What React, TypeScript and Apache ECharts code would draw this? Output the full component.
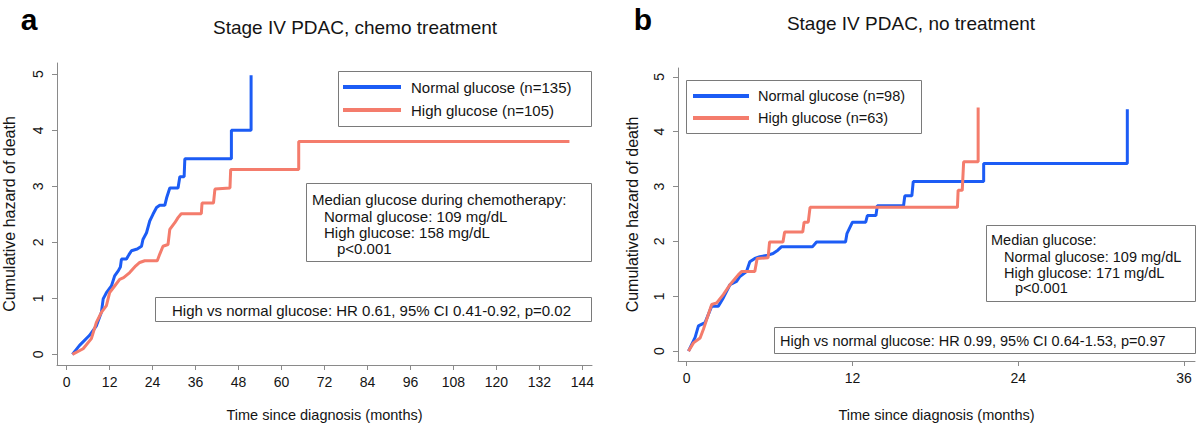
import React, { useEffect, useRef } from "react";
import * as echarts from "echarts";

// ---- Data (months, cumulative hazard) ----
const LEFT_NORMAL: [number, number][] = [
  [1.6, 0], [3.6, 0.16], [6.4, 0.34], [8.3, 0.51], [9.7, 0.75], [10.2, 0.99],
  [11.1, 1.1], [12.5, 1.22], [13.4, 1.4], [14.4, 1.49], [15.0, 1.56], [15.3, 1.7],
  [16.7, 1.7], [17.4, 1.78], [18.1, 1.85], [19.7, 1.88], [20.9, 1.93], [21.3, 2.05],
  [22.3, 2.17], [23.2, 2.38], [24.1, 2.5], [25.1, 2.62], [26, 2.66], [27.4, 2.66],
  [27.9, 2.79], [28.8, 2.97], [31.1, 2.97], [31.6, 3.17], [32.8, 3.17], [33, 3.49],
  [46, 3.49], [46, 4.0], [51.5, 4.0], [51.5, 4.98],
];
const LEFT_HIGH: [number, number][] = [
  [1.6, 0], [4.6, 0.1], [6.9, 0.28], [8.3, 0.57], [9.7, 0.75], [11.1, 0.87],
  [12, 1.1], [13.4, 1.22], [14.8, 1.34], [15.9, 1.37], [17.6, 1.46], [19.3, 1.58],
  [20.4, 1.64], [21.8, 1.67], [25.3, 1.67], [26, 1.79], [26.9, 1.93], [28.3, 1.96],
  [28.8, 2.23], [30.2, 2.35], [31.1, 2.44], [32, 2.51], [37.6, 2.51], [37.8, 2.7],
  [41, 2.7], [41.4, 2.95], [45.6, 2.97], [45.8, 3.3], [64.8, 3.3], [64.8, 3.8],
  [140.4, 3.8],
];
const RIGHT_NORMAL: [number, number][] = [
  [0.13, 0], [0.61, 0.25], [0.85, 0.46], [1.33, 0.52], [1.81, 0.82], [2.29, 0.82],
  [2.65, 0.97], [3.13, 1.21], [3.61, 1.27], [3.85, 1.36], [4.33, 1.45], [4.57, 1.63],
  [4.93, 1.69], [5.29, 1.72], [5.89, 1.75], [6.25, 1.78], [6.6, 1.84], [6.85, 1.9],
  [9.1, 1.9], [9.4, 1.99], [11.5, 1.99], [11.6, 2.14], [12, 2.35], [12.96, 2.35],
  [13.08, 2.47], [13.7, 2.47], [13.8, 2.65], [15.7, 2.65], [15.79, 2.83], [16.3, 2.83],
  [16.4, 3.09], [21.5, 3.09], [21.5, 3.42], [31.9, 3.42], [31.9, 4.41],
];
const RIGHT_HIGH: [number, number][] = [
  [0.13, 0], [0.49, 0.15], [0.97, 0.24], [1.21, 0.4], [1.45, 0.58], [1.81, 0.85],
  [2.17, 0.88], [2.65, 1.03], [3.13, 1.21], [3.73, 1.39], [3.97, 1.45], [4.93, 1.45],
  [5.1, 1.69], [5.89, 1.7], [6, 1.99], [6.97, 1.99], [7.09, 2.17], [8.4, 2.17],
  [8.5, 2.35], [8.8, 2.35], [8.93, 2.62], [19.6, 2.62], [19.65, 2.93], [19.95, 2.93],
  [20.05, 3.45], [21.1, 3.45], [21.1, 4.44],
];

const LEFT_X_TICKS = [0, 12, 24, 36, 48, 60, 72, 84, 96, 108, 120, 132, 144];
const RIGHT_X_TICKS = [0, 12, 24, 36];
const Y_TICKS = [0, 1, 2, 3, 4, 5];

const LEFT_NAMES = ["Normal glucose (n=135)", "High glucose (n=105)"];
const RIGHT_NAMES = ["Normal glucose (n=98)", "High glucose (n=63)"];

const TITLES = ["Stage IV PDAC, chemo treatment", "Stage IV PDAC, no treatment"];
const PANEL_LETTERS = ["a", "b"];
const X_NAME = "Time since diagnosis (months)";
const Y_NAME = "Cumulative hazard of death";

const LEFT_MEDIAN = [
  "Median glucose during chemotherapy:",
  "Normal glucose: 109 mg/dL",
  "High glucose: 158 mg/dL",
  "p<0.001",
];
const RIGHT_MEDIAN = [
  "Median glucose:",
  "Normal glucose: 109 mg/dL",
  "High glucose: 171 mg/dL",
  "p<0.001",
];
const LEFT_HR = "High vs normal glucose: HR 0.61, 95% CI 0.41-0.92, p=0.02";
const RIGHT_HR = "High vs normal glucose: HR 0.99, 95% CI 0.64-1.53, p=0.97";

const BLUE = "#1c5cf5";
const RED = "#f47c6c";
const AXIS = "#8a8a8a";
const BOX = "#7a7a7a";
const INK = "#141414";
const FONT = "'Liberation Sans', Arial, Helvetica, sans-serif";

function xAxisCfg(grid: number, min: number, max: number, ticks: number[], gap: number) {
  return {
    gridIndex: grid,
    type: "value",
    min,
    max,
    name: X_NAME,
    nameLocation: "middle",
    nameGap: gap,
    nameTextStyle: { fontSize: 14.5, color: INK, fontFamily: FONT },
    axisLine: { show: true, onZero: false, lineStyle: { color: AXIS, width: 1 } },
    axisTick: { show: true, length: 5, customValues: ticks, lineStyle: { color: AXIS } },
    axisLabel: { customValues: ticks, fontSize: 14, color: INK, margin: 10, fontFamily: FONT },
    splitLine: { show: false },
  };
}

function yAxisCfg(grid: number, min: number, max: number, gap: number) {
  return {
    gridIndex: grid,
    type: "value",
    position: "left",
    min,
    max,
    name: Y_NAME,
    nameLocation: "middle",
    nameGap: gap,
    nameTextStyle: { fontSize: 16, color: INK, fontFamily: FONT },
    axisLine: { show: true, onZero: false, lineStyle: { color: AXIS, width: 1 } },
    axisTick: { show: true, length: 5, customValues: Y_TICKS, lineStyle: { color: AXIS } },
    axisLabel: {
      customValues: Y_TICKS,
      fontSize: 14,
      color: INK,
      margin: 12,
      inside: false,
      rotate: 90,
      fontFamily: FONT,
    },
    splitLine: { show: false },
  };
}

function lineSeries(name: string, data: [number, number][], color: string, idx: number, z: number) {
  return {
    name,
    type: "line",
    xAxisIndex: idx,
    yAxisIndex: idx,
    data,
    showSymbol: false,
    symbol: "none",
    lineStyle: { color, width: 3 },
    itemStyle: { color },
    z,
  };
}

function rect(x: number, y: number, w: number, h: number) {
  return {
    type: "rect",
    shape: { x, y, width: w, height: h },
    style: { fill: "#fff", stroke: BOX, lineWidth: 1 },
    z: 1,
  };
}

function txt(text: string, x: number, y: number, size: number, extra: any = {}) {
  return {
    type: "text",
    x,
    y,
    z: 2,
    style: {
      text,
      fontSize: size,
      fontFamily: FONT,
      fill: INK,
      align: "left",
      verticalAlign: "middle",
      ...extra,
    },
  };
}

export default function App() {
  const ref = useRef<HTMLDivElement>(null);

  useEffect(() => {
    if (!ref.current) return;
    const chart = echarts.init(ref.current, undefined, { renderer: "svg" });

    const medianLeft = [
      txt(LEFT_MEDIAN[0], 312, 199, 15),
      txt(LEFT_MEDIAN[1], 324, 216, 15),
      txt(LEFT_MEDIAN[2], 324, 232, 15),
      txt(LEFT_MEDIAN[3], 337, 248, 15),
    ];
    const medianRight = [
      txt(RIGHT_MEDIAN[0], 991, 240, 14.5),
      txt(RIGHT_MEDIAN[1], 1004, 257, 14.5),
      txt(RIGHT_MEDIAN[2], 1004, 273, 14.5),
      txt(RIGHT_MEDIAN[3], 1015, 288, 14.5),
    ];

    const option: any = {
      animation: false,
      backgroundColor: "#fff",
      textStyle: { fontFamily: FONT },
      grid: [
        { left: 57, top: 63, width: 535, height: 303 },
        { left: 678, top: 68, width: 517, height: 296 },
      ],
      xAxis: [
        xAxisCfg(0, -2.7, 146.7, LEFT_X_TICKS, 42),
        xAxisCfg(1, -0.63, 36.8, RIGHT_X_TICKS, 46),
      ],
      yAxis: [yAxisCfg(0, -0.19, 5.2, 40), yAxisCfg(1, -0.18, 5.16, 38)],
      legend: [
        {
          data: LEFT_NAMES,
          left: 343,
          top: 79,
          orient: "vertical",
          icon: "rect",
          itemWidth: 58,
          itemHeight: 4,
          itemGap: 7,
          padding: 0,
          selectedMode: false,
          z: 3,
          textStyle: { fontSize: 15, lineHeight: 16, color: INK, fontFamily: FONT, padding: [0, 0, 0, 5] },
        },
        {
          data: RIGHT_NAMES,
          left: 693,
          top: 88,
          orient: "vertical",
          icon: "rect",
          itemWidth: 56,
          itemHeight: 4,
          itemGap: 6,
          padding: 0,
          selectedMode: false,
          z: 3,
          textStyle: { fontSize: 14.5, lineHeight: 16, color: INK, fontFamily: FONT, padding: [0, 0, 0, 4] },
        },
      ],
      graphic: [
        txt(PANEL_LETTERS[0], 29, 19, 30, { fontWeight: "bold", align: "center", fill: "#000" }),
        txt(PANEL_LETTERS[1], 643, 19, 30, { fontWeight: "bold", align: "center", fill: "#000" }),
        txt(TITLES[0], 355, 27, 19, { align: "center" }),
        txt(TITLES[1], 911, 23, 19, { align: "center" }),
        rect(338.5, 71.5, 253, 55),
        rect(306.5, 183.5, 285, 78),
        rect(155.5, 297.5, 436, 24),
        ...medianLeft,
        txt(LEFT_HR, 172, 310, 15),
        rect(686.5, 80.5, 235, 53),
        rect(986.5, 225.5, 209, 76),
        rect(774.5, 327.5, 421, 26),
        ...medianRight,
        txt(RIGHT_HR, 780, 341, 14.5),
      ],
      series: [
        lineSeries(LEFT_NAMES[0], LEFT_NORMAL, BLUE, 0, 4),
        lineSeries(LEFT_NAMES[1], LEFT_HIGH, RED, 0, 5),
        lineSeries(RIGHT_NAMES[0], RIGHT_NORMAL, BLUE, 1, 4),
        lineSeries(RIGHT_NAMES[1], RIGHT_HIGH, RED, 1, 5),
      ],
    };

    chart.setOption(option);
    return () => chart.dispose();
  }, []);

  return (
    <div
      ref={ref}
      style={{ position: "absolute", left: 0, top: 0, width: 1200, height: 427 }}
    />
  );
}
